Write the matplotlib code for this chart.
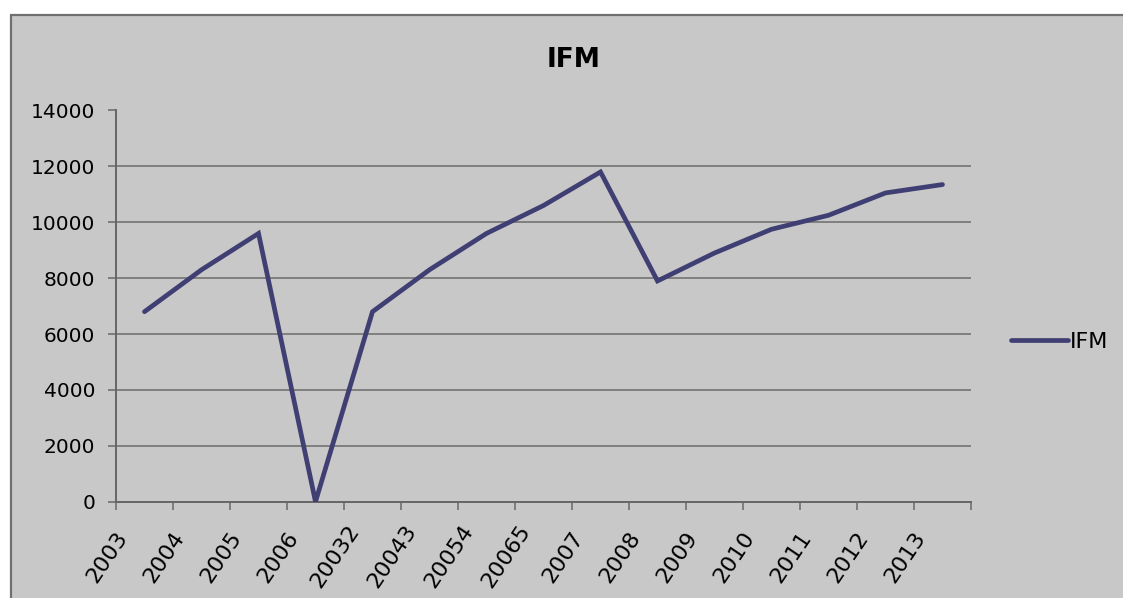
import matplotlib
matplotlib.use("Agg")
import matplotlib.pyplot as plt
from matplotlib.patches import Rectangle
import matplotlib.transforms as mtransforms
import numpy as np

categories = ["2003", "2004", "2005", "2006", "20032", "20043", "20054", "20065",
              "2007", "2008", "2009", "2010", "2011", "2012", "2013"]
ifm_values = [6800, 8300, 9600, 0, 6800, 8300, 9600, 10600,
              11800, 7900, 8900, 9750, 10250, 11050, 11350]
y_ticks = [0, 2000, 4000, 6000, 8000, 10000, 12000, 14000]
series_name = "IFM"
title = "IFM"

W, H = 1123, 598
fig = plt.figure(figsize=(W / 100, H / 100), dpi=100)
fig.patch.set_facecolor("white")

# chart area
fig.patches.append(Rectangle((11 / W, -0.05), 1.1, (H - 15) / H + 0.05,
                             transform=fig.transFigure, facecolor="#c8c8c8",
                             edgecolor="#707070", linewidth=1.6, zorder=-5))

ax = fig.add_axes([116 / W, (H - 501.7) / H, (971 - 116) / W, (501.7 - 110.5) / H])
ax.set_zorder(2)
ax.patch.set_alpha(0)

x = np.arange(len(categories))
ax.plot(x, ifm_values, color="#403f73", linewidth=3.4, solid_capstyle="round",
        solid_joinstyle="miter", label=series_name, zorder=3)

ax.set_xlim(-0.5, len(categories) - 0.5)
ax.set_ylim(0, 14000)
ax.set_yticks(y_ticks)
ax.set_yticklabels([str(v) for v in y_ticks], fontsize=14.5, family="DejaVu Sans")
ax.yaxis.grid(True, color="#808080", linewidth=1.4)
ax.set_axisbelow(True)

ax.set_xticks(x)
ax.set_xticks(np.arange(-0.5, len(categories)), minor=True)
ax.tick_params(axis="x", which="major", length=0, labelbottom=False)
ax.tick_params(axis="x", which="minor", length=6, color="#707070", width=1.2)
ax.tick_params(axis="y", length=6, color="#707070", width=1.2, pad=9)

# category labels, rotated
base = mtransforms.blended_transform_factory(ax.transData, ax.transAxes)
offset = mtransforms.ScaledTranslation(-37 / 100, -55 / 100, fig.dpi_scale_trans)
for xi, lab in zip(x, categories):
    ax.text(xi, 0, lab, transform=base + offset, rotation=56, rotation_mode="anchor",
            ha="center", va="center", fontsize=16, family="DejaVu Sans", clip_on=False)

for s in ["top", "right"]:
    ax.spines[s].set_visible(False)
for s in ["left", "bottom"]:
    ax.spines[s].set_color("#666666")
    ax.spines[s].set_linewidth(1.4)

fig.text(574 / W, (H - 60) / H, title, ha="center", va="center",
         fontsize=19, fontweight="bold", family="DejaVu Sans")

leg = ax.legend(loc="center left", bbox_to_anchor=(1011 / W, (H - 342) / H),
                bbox_transform=fig.transFigure, frameon=False, fontsize=16,
                handlelength=2.55, handletextpad=0.1, borderpad=0, borderaxespad=0)

fig.savefig("out.png", dpi=100)
